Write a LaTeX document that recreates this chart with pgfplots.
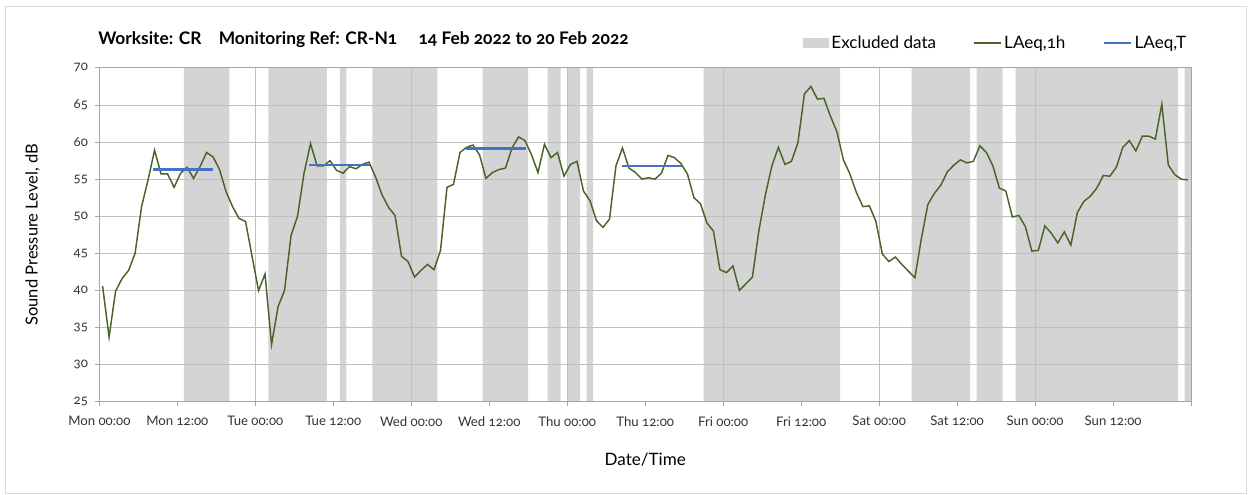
\documentclass[border=0pt]{standalone}
\usepackage{fontspec}
\setmainfont{Lato}[Numbers=OldStyle]
\usepackage{pgfplots}
\usepackage{pgfplotstable}
\pgfplotsset{compat=1.18}

\definecolor{excl}{HTML}{D4D4D4}
\definecolor{laeqh}{HTML}{4A6428}
\definecolor{laeqt}{HTML}{4472C4}
\definecolor{gridc}{HTML}{C0C0C0}
\definecolor{axisc}{HTML}{A6A6A6}
\definecolor{framec}{HTML}{D9D9D9}

\pgfplotsset{
  linelegend/.style={legend image code/.code={\draw[##1] (0pt,0pt) -- (20pt,0pt);}},
  boxlegend/.style={legend image code/.code={\fill[excl] (0pt,-3.5pt) rectangle (19.5pt,3.5pt);}},
}

% hourly LAeq, plotted at the middle of each hour (hours from Mon 00:00)
\pgfplotstableread{
hour laeq
0.5 40.6
1.5 33.7
2.5 39.9
3.5 41.6
4.5 42.7
5.5 45.0
6.5 51.3
7.5 54.9
8.5 58.9
9.5 55.7
10.5 55.7
11.5 53.9
12.5 55.8
13.5 56.6
14.5 55.1
15.5 56.7
16.5 58.6
17.5 58.0
18.5 56.3
19.5 53.3
20.5 51.3
21.5 49.7
22.5 49.3
23.5 44.6
24.5 40.0
25.5 42.2
26.5 32.7
27.5 37.8
28.5 40.0
29.5 47.4
30.5 50.0
31.5 55.8
32.5 59.8
33.5 56.8
34.5 56.8
35.5 57.5
36.5 56.2
37.5 55.8
38.5 56.7
39.5 56.4
40.5 57.0
41.5 57.3
42.5 55.3
43.5 52.9
44.5 51.2
45.5 50.1
46.5 44.6
47.5 43.9
48.5 41.8
49.5 42.7
50.5 43.5
51.5 42.8
52.5 45.4
53.5 53.9
54.5 54.3
55.5 58.6
56.5 59.3
57.5 59.6
58.5 58.3
59.5 55.1
60.5 55.9
61.5 56.3
62.5 56.5
63.5 59.2
64.5 60.7
65.5 60.2
66.5 58.3
67.5 55.9
68.5 59.7
69.5 57.9
70.5 58.6
71.5 55.4
72.5 57.0
73.5 57.4
74.5 53.4
75.5 52.1
76.5 49.4
77.5 48.5
78.5 49.6
79.5 56.8
80.5 59.2
81.5 56.5
82.5 55.9
83.5 55.0
84.5 55.2
85.5 55.0
86.5 55.8
87.5 58.2
88.5 57.9
89.5 57.1
90.5 55.7
91.5 52.5
92.5 51.7
93.5 49.1
94.5 48.0
95.5 42.8
96.5 42.4
97.5 43.3
98.5 40.0
99.5 40.9
100.5 41.8
101.5 48.1
102.5 52.9
103.5 56.8
104.5 59.3
105.5 57.0
106.5 57.4
107.5 59.9
108.5 66.5
109.5 67.5
110.5 65.8
111.5 65.9
112.5 63.5
113.5 61.4
114.5 57.6
115.5 55.7
116.5 53.2
117.5 51.3
118.5 51.4
119.5 49.3
120.5 44.9
121.5 43.9
122.5 44.5
123.5 43.5
124.5 42.6
125.5 41.7
126.5 47.0
127.5 51.6
128.5 53.1
129.5 54.2
130.5 56.0
131.5 56.9
132.5 57.6
133.5 57.2
134.5 57.4
135.5 59.5
136.5 58.6
137.5 56.8
138.5 53.8
139.5 53.4
140.5 49.9
141.5 50.1
142.5 48.6
143.5 45.3
144.5 45.4
145.5 48.7
146.5 47.7
147.5 46.4
148.5 47.9
149.5 46.1
150.5 50.5
151.5 52.0
152.5 52.7
153.5 53.8
154.5 55.5
155.5 55.4
156.5 56.6
157.5 59.3
158.5 60.2
159.5 58.8
160.5 60.8
161.5 60.8
162.5 60.4
163.5 65.1
164.5 56.9
165.5 55.6
166.5 55.0
167.5 54.9
}\hourly

\begin{document}
\begin{tikzpicture}
\path (0,0) rectangle (937.5pt,371.25pt);
\draw[framec, line width=0.75pt] (3.75pt,0.75pt) rectangle (934.5pt,366pt);
\begin{axis}[
  set layers, clip mode=individual,
  at={(74.5pt,70pt)}, anchor=south west,
  width=818.8pt, height=250.3pt, scale only axis,
  xmin=0, xmax=168, ymin=25, ymax=70,
  xtick={0,12,...,168},
  xticklabels={Mon 00:00,Mon 12:00,Tue 00:00,Tue 12:00,Wed 00:00,Wed 12:00,Thu 00:00,Thu 12:00,Fri 00:00,Fri 12:00,Sat 00:00,Sat 12:00,Sun 00:00,Sun 12:00,{}},
  ytick={25,30,...,70},
  extra x ticks={24,48,72,96,120,144},
  extra x tick labels={},
  extra x tick style={xmajorgrids=true, major tick length=0pt, major grid style={gridc, line width=0.4pt}},
  ymajorgrids,
  major grid style={gridc, line width=0.75pt},
  axis line style={axisc, line width=0.75pt},
  tick style={axisc, line width=0.75pt},
  tick align=outside, major tick length=3pt, tick pos=left,
  /pgf/number format/assume math mode=true,
  ticklabel style={font=\fontsize{9.9}{12}\selectfont, text=black!80},
  xticklabel style={yshift=-4.5pt},
  yticklabel style={xshift=-2pt},
  xlabel={Date/Time},
  xlabel style={at={(axis description cs:0.5,-0.174)}, anchor=center, font=\fontsize{12.8}{16}\selectfont},
  ylabel={Sound Pressure Level, dB},
  ylabel style={at={(axis description cs:-0.061,0.5)}, anchor=center, font=\fontsize{12.4}{15}\selectfont},
  every axis title shift=0pt,
  title={Worksite: CR\hspace{13pt}Monitoring Ref: CR-N1\hspace{16pt}14 Feb 2022 to 20 Feb 2022},
  title style={at={(axis description cs:0,1)}, anchor=west, xshift=-1pt, yshift=21pt, inner sep=0pt, font=\bfseries\fontsize{13}{16}\selectfont},
  legend style={at={(axis description cs:1.0018,1.0749)}, anchor=east, draw=none, fill=none,
    font=\fontsize{12.8}{16}\selectfont, legend columns=3,
    /tikz/every even column/.append style={column sep=26pt}},
]
% excluded periods: interval [x_i, x_{i+1}) has height y_i (25 = nothing)
\addplot[ybar interval, fill=excl, draw=none, on layer=axis background, boxlegend]
  coordinates {(13,70) (20,25) (26,70) (35,25) (37,70) (38,25) (42,70) (52,25)
    (59,70) (66,25) (69,70) (71,25) (72,70) (74,25) (75,70) (76,25) (93,70) (114,25)
    (125,70) (134,25) (135,70) (139,25) (141,70) (166,25) (167,70) (168,25)};
\addlegendentry{Excluded data}
\addplot[laeqh, line width=1.1pt, mark=none, linelegend]
  table[x=hour, y=laeq] {\hourly};
\addlegendentry{LAeq,1h}
\addplot[laeqt, line width=1.9pt, mark=none, linelegend]
  coordinates {(8.3,56.3) (17.5,56.3)};
\addlegendentry{LAeq,T}
\addplot[laeqt, line width=1.9pt, forget plot] coordinates {(32.3,56.9) (41.6,56.9)};
\addplot[laeqt, line width=1.9pt, forget plot] coordinates {(56.4,59.1) (65.6,59.1)};
\addplot[laeqt, line width=1.9pt, forget plot] coordinates {(80.5,56.8) (89.7,56.8)};
\end{axis}
\end{tikzpicture}
\end{document}
